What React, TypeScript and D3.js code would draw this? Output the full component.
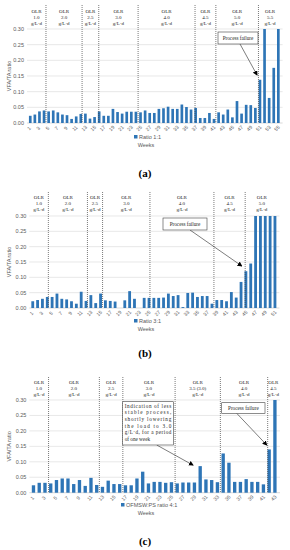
import { useEffect, useRef } from 'react';
import * as d3 from 'd3';

// VFA/TA ratio per week
const ratioA = [
  0.023, 0.027, 0.037, 0.04, 0.037, 0.04, 0.034, 0.027, 0.025, 0.013,
  0.021, 0.029, 0.03, 0.014, 0.019, 0.037, 0.023, 0.023, 0.045, 0.035,
  0.03, 0.036, 0.036, 0.036, 0.034, 0.04, 0.032, 0.032, 0.045, 0.047,
  0.052, 0.045, 0.045, 0.059, 0.051, 0.043, 0.048, 0.016, 0.016, 0.032,
  0.013, 0.034, 0.027, 0.043, 0.018, 0.07, 0.03, 0.058, 0.057, 0.048,
  0.138, 0.3, 0.08, 0.176, 0.3,
];
const ratioB = [
  0.022, 0.026, 0.03, 0.036, 0.036, 0.047, 0.03, 0.028, 0.022, 0.014,
  0.053, 0.023, 0.042, 0.016, 0.047, 0.025, 0.023, 0.021, 0, 0.025,
  0.055, 0.03, 0, 0.033, 0.033, 0.033, 0.033, 0.034, 0.047, 0.039,
  0.042, 0.003, 0.049, 0.05, 0.036, 0.039, 0.039, 0.014, 0.026, 0.026,
  0.022, 0.052, 0.034, 0.085, 0.12, 0.145, 0.3, 0.3, 0.3, 0.3, 0.3,
];
const ratioC = [
  0.024, 0.032, 0.032, 0.03, 0.041, 0.046, 0.046, 0.028, 0.041, 0.022,
  0.048, 0.025, 0.019, 0.039, 0.028, 0.028, 0.024, 0.024, 0.046, 0.068,
  0.03, 0.035, 0.035, 0.032, 0.034, 0.03, 0.033, 0.033, 0.033, 0.086,
  0.043, 0.041, 0.034, 0.127, 0.097, 0.035, 0.035, 0.044, 0.035, 0.035,
  0.027, 0.14, 0.3,
];

// OLR periods (g/L·d) and where they change, in weeks
const olrA = ['1.0', '2.0', '2.5', '3.0', '4.0', '4.5', '5.0', '5.5'];
const splitsA = [4.1, 11.9, 15.5, 24, 36.3, 40.8, 50];
const olrB = ['1.0', '2.0', '2.5', '3.0', '4.0', '4.5', '5.0'];
const splitsB = [3.9, 11.9, 15, 24.7, 37.8, 44.2];
const olrC = ['1.0', '2.0', '2.5', '3.0', '3.5 (3.0)', '4.0', '4.5'];
const splitsC = [3.3, 12.05, 16.1, 25.1, 32.9, 41.05];

const yTicks = [0, 0.05, 0.1, 0.15, 0.2, 0.25, 0.3];

const failureText = ['Process failure'];
const lowerLoadText = [
  'Indication of less',
  'stable process,',
  'shortly lowering',
  'the load to 3.0',
  'g/L·d, for a period',
  'of one week',
];

const BLUE = '#2E75B6';
const SERIF = '"Liberation Serif", "DejaVu Serif", serif';
const SANS = '"Liberation Sans", Arial, sans-serif';

const panels = [
  {
    values: ratioA, olr: olrA, splits: splitsA, series: 'Ratio 1:1', caption: '(a)',
    x0: 27, x1: 281.6, yT: 29, yB: 123, divTop: 5, olrY: 11, legendX: 134, legendY: 139, weeksY: 147, capY: 177,
    notes: [
      { lines: failureText, box: [218, 32, 40, 12], from: [240, 44], week: 49.7, value: 0.153, justify: false },
    ],
  },
  {
    values: ratioB, olr: olrB, splits: splitsB, series: 'Ratio 3:1', caption: '(b)',
    x0: 29.3, x1: 278.4, yT: 216, yB: 308, divTop: 192, olrY: 197, legendX: 134, legendY: 323, weeksY: 331, capY: 357,
    notes: [
      { lines: failureText, box: [163, 218, 44, 12], from: [190, 230], week: 43.5, value: 0.137, justify: false },
    ],
  },
  {
    values: ratioC, olr: olrC, splits: splitsC, series: 'OFMSW:PS ratio 4:1', caption: '(c)',
    x0: 29.4, x1: 279, yT: 400, yB: 492.7, divTop: 377, olrY: 382, legendX: 121, legendY: 507, weeksY: 515, capY: 545,
    notes: [
      { lines: lowerLoadText, box: [122.7, 401.7, 50.6, 43.3], from: [156.7, 445], week: 28.2, value: 0.089, justify: true },
      { lines: failureText, box: [221.7, 402.7, 43.3, 10.6], from: [236.7, 413.3], week: 40.9, value: 0.154, justify: false },
    ],
  },
];

function drawPanel(svg, p) {
  const n = p.values.length;
  const x = d3.scaleBand().domain(d3.range(1, n + 1)).range([p.x0, p.x1]).padding(0.42);
  const xw = d3.scaleLinear().domain([0, n]).range([p.x0, p.x1]);
  const y = d3.scaleLinear().domain([0, 0.3]).range([p.yB, p.yT]);
  const g = svg.append('g');

  // gridlines + y tick labels
  g.selectAll('line.grid')
    .data(yTicks)
    .join('line')
    .attr('x1', p.x0).attr('x2', p.x1 + 1)
    .attr('y1', d => y(d)).attr('y2', d => y(d))
    .attr('stroke', d => (d === 0 ? '#bfbfbf' : '#d9d9d9'))
    .attr('stroke-width', 0.6);

  g.selectAll('text.ytick')
    .data(yTicks)
    .join('text')
    .attr('x', p.x0 - 3)
    .attr('y', d => y(d) + 2)
    .attr('text-anchor', 'end')
    .attr('font-family', SANS)
    .attr('font-size', 5.5)
    .attr('fill', '#595959')
    .text(d => d.toFixed(2));

  g.append('text')
    .attr('transform', `translate(11, ${(p.yT + p.yB) / 2}) rotate(-90)`)
    .attr('text-anchor', 'middle')
    .attr('font-family', SANS)
    .attr('font-size', 5.5)
    .attr('fill', '#595959')
    .text('VFA/TA ratio');

  // bars
  g.selectAll('rect')
    .data(p.values)
    .join('rect')
    .attr('x', (d, i) => x(i + 1))
    .attr('y', d => y(d))
    .attr('width', x.bandwidth())
    .attr('height', d => p.yB - y(d))
    .attr('fill', BLUE);

  // x labels, odd weeks
  const odd = d3.range(1, n + 1, 2);
  g.selectAll('text.xtick')
    .data(odd)
    .join('text')
    .attr('transform', d => `translate(${x(d) + x.bandwidth() / 2}, ${p.yB + 6.5}) rotate(-45)`)
    .attr('text-anchor', 'middle')
    .attr('font-family', SANS)
    .attr('font-size', 5)
    .attr('fill', '#595959')
    .text(d => d);

  // OLR period dividers and labels
  g.selectAll('line.div')
    .data(p.splits)
    .join('line')
    .attr('x1', d => xw(d)).attr('x2', d => xw(d))
    .attr('y1', p.divTop).attr('y2', p.yB)
    .attr('stroke', '#404040')
    .attr('stroke-width', 0.7)
    .attr('stroke-dasharray', '1,1');

  const bounds = [0, ...p.splits, n];
  p.olr.forEach((lab, i) => {
    const cx = (xw(bounds[i]) + xw(bounds[i + 1])) / 2;
    const t = g.append('text')
      .attr('text-anchor', 'middle')
      .attr('font-family', SERIF)
      .attr('font-size', 5)
      .attr('fill', '#262626');
    ['OLR', lab, 'g/L·d'].forEach((s, j) => {
      t.append('tspan').attr('x', cx).attr('y', p.olrY + 2 + j * 6).text(s);
    });
  });

  // annotations
  p.notes.forEach(a => {
    const [bx, by, bw, bh] = a.box;
    g.append('line')
      .attr('x1', a.from[0]).attr('y1', a.from[1])
      .attr('x2', xw(a.week)).attr('y2', y(a.value))
      .attr('stroke', '#262626')
      .attr('stroke-width', 0.6)
      .attr('marker-end', 'url(#arr)');
    g.append('rect')
      .attr('x', bx).attr('y', by).attr('width', bw).attr('height', bh)
      .attr('fill', 'white')
      .attr('stroke', '#404040')
      .attr('stroke-width', 0.6);
    const lh = 6.6;
    a.lines.forEach((s, j) => {
      const t = g.append('text')
        .attr('font-family', SERIF)
        .attr('font-size', 5.2)
        .attr('fill', '#262626');
      if (a.justify) {
        t.attr('x', bx + 2).attr('y', by + 6 + j * lh);
        if (j < a.lines.length - 1) t.attr('textLength', bw - 4).attr('lengthAdjust', 'spacing');
      } else {
        t.attr('x', bx + bw / 2).attr('y', by + bh / 2 + 1.8).attr('text-anchor', 'middle');
      }
      t.text(s);
    });
  });

  // legend, axis title, caption
  g.append('rect')
    .attr('x', p.legendX).attr('y', p.legendY - 4)
    .attr('width', 3.5).attr('height', 3.5)
    .attr('fill', BLUE);
  g.append('text')
    .attr('x', p.legendX + 5).attr('y', p.legendY)
    .attr('font-family', SANS)
    .attr('font-size', 5.5)
    .attr('fill', '#595959')
    .text(p.series);
  g.append('text')
    .attr('x', 146).attr('y', p.weeksY)
    .attr('text-anchor', 'middle')
    .attr('font-family', SANS)
    .attr('font-size', 5.5)
    .attr('fill', '#595959')
    .text('Weeks');
  g.append('text')
    .attr('x', 145).attr('y', p.capY)
    .attr('text-anchor', 'middle')
    .attr('font-family', SERIF)
    .attr('font-weight', 'bold')
    .attr('font-size', 11)
    .attr('fill', '#000')
    .text(p.caption);
}

const App = () => {
  const svgRef = useRef(null);

  useEffect(() => {
    const svg = d3.select(svgRef.current);
    svg.selectAll('*').remove();

    svg.append('defs')
      .append('marker')
      .attr('id', 'arr')
      .attr('viewBox', '0 0 6 6')
      .attr('refX', 5).attr('refY', 3)
      .attr('markerWidth', 5).attr('markerHeight', 5)
      .attr('markerUnits', 'userSpaceOnUse')
      .attr('orient', 'auto')
      .append('path')
      .attr('d', 'M0,0 L6,3 L0,6 Z')
      .attr('fill', '#000');

    panels.forEach(p => drawPanel(svg, p));
  }, []);

  return (
    <svg
      ref={svgRef}
      width={290}
      height={550}
      style={{ position: 'absolute', left: 0, top: 0, background: '#fff' }}
    />
  );
};

export default App;
